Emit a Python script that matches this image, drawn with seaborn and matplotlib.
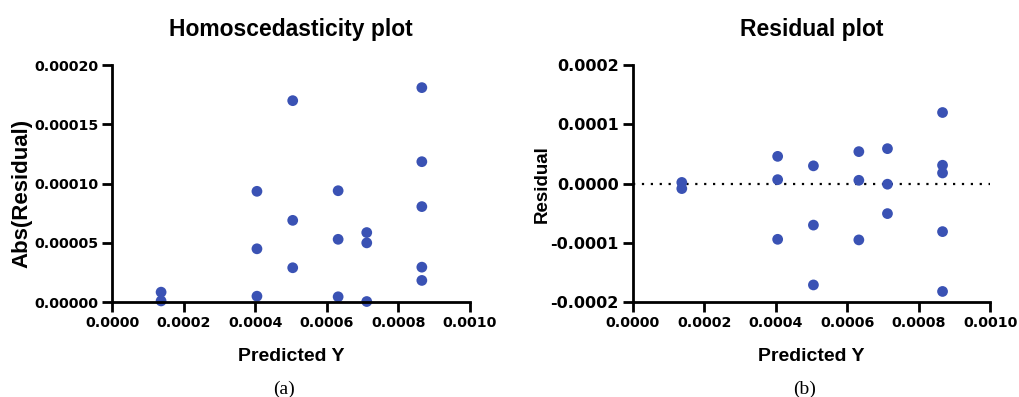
import numpy as np
import pandas as pd
import matplotlib
matplotlib.use("Agg")
import matplotlib.pyplot as plt
import seaborn as sns

sns.set_style("ticks")
plt.rcParams["font.family"] = ["Liberation Sans", "DejaVu Sans"]
plt.rcParams["text.color"] = "black"
plt.rcParams["axes.labelcolor"] = "black"

# Data
predicted = [0.000137, 0.000137,
             0.000405, 0.000405, 0.000405,
             0.000505, 0.000505, 0.000505,
             0.000632, 0.000632, 0.000632,
             0.000712, 0.000712, 0.000712,
             0.000866, 0.000866, 0.000866, 0.000866, 0.000866]
residual = [0.000002, -0.0000084,
            0.000046, 0.0000067, -0.000094,
            0.000030, -0.000070, -0.000171,
            0.000054, 0.0000056, -0.000095,
            0.000059, -0.000001, -0.0000506,
            0.000120, 0.000031, 0.000018, -0.000081, -0.000182]
abs_residual = [0.0000084, 0.000001,
                0.0000935, 0.000045, 0.000005,
                0.000170, 0.000069, 0.000029,
                0.000094, 0.000053, 0.0000045,
                0.0000587, 0.000050, 0.0000005,
                0.000181, 0.0001185, 0.0000806, 0.0000295, 0.0000183]
x_ticks = [0.0, 0.0002, 0.0004, 0.0006, 0.0008, 0.0010]
x_tick_labels = ["0.0000", "0.0002", "0.0004", "0.0006", "0.0008", "0.0010"]
abs_ticks = [0.0, 0.00005, 0.0001, 0.00015, 0.0002]
abs_tick_labels = ["0.00000", "0.00005", "0.00010", "0.00015", "0.00020"]
res_ticks = [-0.0002, -0.0001, 0.0, 0.0001, 0.0002]
res_tick_labels = ["-0.0002", "-0.0001", "0.0000", "0.0001", "0.0002"]

df = pd.DataFrame({"Predicted Y": predicted,
                   "Residual": residual,
                   "Abs(Residual)": abs_residual})

dot_color = "#3a52b4"
tick_font = ["DejaVu Sans"]

fig = plt.figure(figsize=(10.19, 3.97), dpi=100)
ax1 = fig.add_axes([0.110, 0.239, 0.351, 0.597])
ax2 = fig.add_axes([0.621, 0.239, 0.351, 0.597])


def style_axis(ax, ticks, tick_labels, ysize):
    for side in ["top", "right"]:
        ax.spines[side].set_visible(False)
    for side in ["left", "bottom"]:
        ax.spines[side].set_linewidth(2)
        ax.spines[side].set_color("black")
    ax.tick_params(width=2, length=7, pad=3, colors="black")
    ax.set_xlim(0, 0.001)
    ax.set_xticks(x_ticks)
    ax.set_xticklabels(x_tick_labels, fontweight="bold", family=tick_font,
                       fontsize=10.3)
    ax.set_yticks(ticks)
    ax.set_yticklabels(tick_labels, fontweight="bold", family=tick_font,
                       fontsize=ysize)
    ax.set_xlabel("Predicted Y", fontsize=14, fontweight="bold", labelpad=13)


# Homoscedasticity plot
sns.scatterplot(data=df, x="Predicted Y", y="Abs(Residual)", ax=ax1,
                color=dot_color, s=60, edgecolor="none", clip_on=False)
ax1.set_ylim(0, 0.0002)
style_axis(ax1, abs_ticks, abs_tick_labels, 10.3)
ax1.set_ylabel("Abs(Residual)", fontsize=16, fontweight="bold")
ax1.yaxis.set_label_coords(-0.222, 0.46)
ax1.set_title("Homoscedasticity plot", fontsize=16.5, fontweight="bold", pad=21)

# Residual plot
ax2.axhline(0, color="black", linestyle=(0, (1, 3)), linewidth=1.6, zorder=1)
sns.scatterplot(data=df, x="Predicted Y", y="Residual", ax=ax2,
                color=dot_color, s=60, edgecolor="none", zorder=3, clip_on=False)
ax2.set_ylim(-0.0002, 0.0002)
style_axis(ax2, res_ticks, res_tick_labels, 11.5)
ax2.set_ylabel("Residual", fontsize=13.5, fontweight="bold")
ax2.yaxis.set_label_coords(-0.23, 0.5)
ax2.set_title("Residual plot", fontsize=16.5, fontweight="bold", pad=21)

fig.text(0.279, 0.008, "(a)", ha="center", fontsize=14,
         family=["Liberation Serif", "DejaVu Serif"])
fig.text(0.790, 0.008, "(b)", ha="center", fontsize=14,
         family=["Liberation Serif", "DejaVu Serif"])

fig.savefig("out.png", dpi=100)
